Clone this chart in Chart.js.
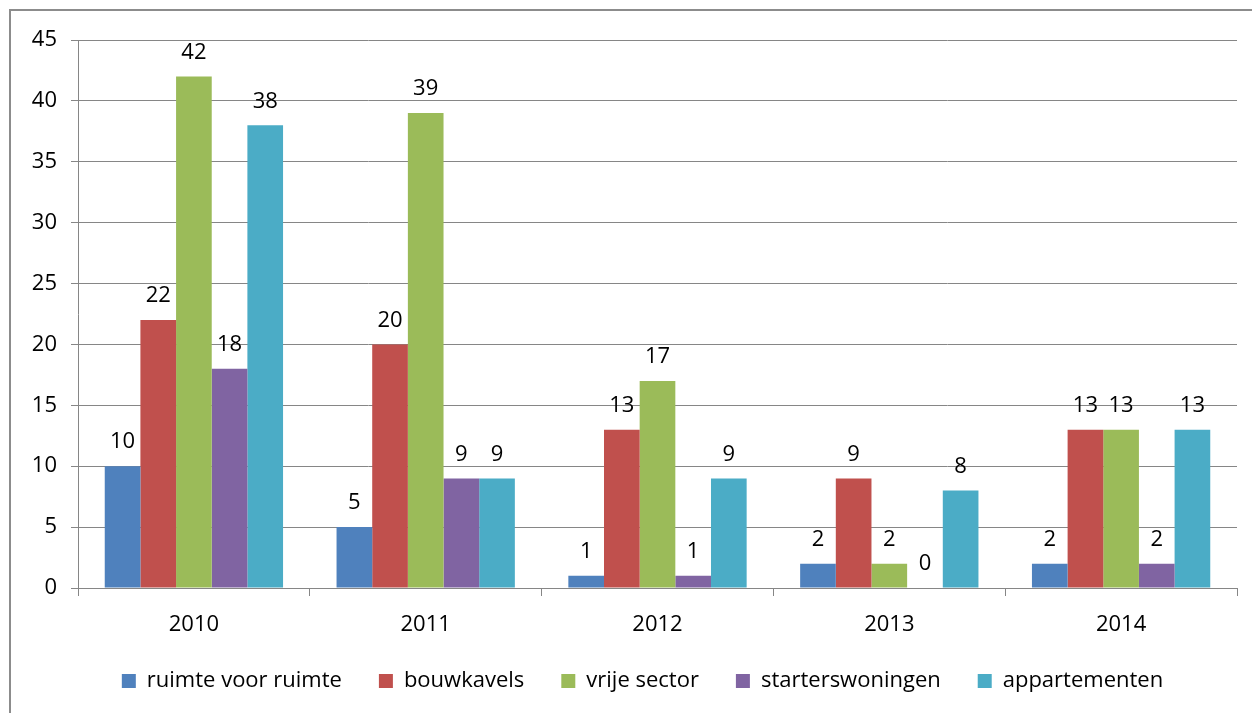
<!DOCTYPE html>
<html>
<head>
<meta charset="utf-8">
<script src="https://cdn.jsdelivr.net/npm/chart.js@4"></script>
<style>
  html, body { margin: 0; padding: 0; background: #fff; }
  #wrap { position: relative; width: 1252px; height: 713px; }
</style>
</head>
<body>
<div id="wrap"><canvas id="chart" width="1252" height="713"></canvas></div>
<script>
const years = ["2010", "2011", "2012", "2013", "2014"];
const ruimteVoorRuimte = [10, 5, 1, 2, 2];
const bouwkavels = [22, 20, 13, 9, 13];
const vrijeSector = [42, 39, 17, 2, 13];
const starterswoningen = [18, 9, 1, 0, 2];
const appartementen = [38, 9, 9, 8, 13];

const seriesNames = ["ruimte voor ruimte", "bouwkavels", "vrije sector", "starterswoningen", "appartementen"];
const seriesColors = ["#4F81BD", "#C0504D", "#9BBB59", "#8064A2", "#4BACC6"];
const seriesData = [ruimteVoorRuimte, bouwkavels, vrijeSector, starterswoningen, appartementen];

const FONT = "'Open Sans', sans-serif";
const FSIZE = 22;

// value labels above every bar
const barLabels = {
  id: "barLabels",
  afterDatasetsDraw(chart) {
    const ctx = chart.ctx;
    ctx.save();
    ctx.font = FSIZE + "px " + FONT;
    ctx.fillStyle = "#000";
    ctx.textAlign = "center";
    ctx.textBaseline = "bottom";
    chart.data.datasets.forEach((ds, i) => {
      chart.getDatasetMeta(i).data.forEach((bar, j) => {
        ctx.fillText(String(ds.data[j]), bar.x, bar.y - 13);
      });
    });
    ctx.restore();
  }
};

// grey frame on the left and top, like the cropped excel chart
const frame = {
  id: "frame",
  beforeDraw(chart) {
    const ctx = chart.ctx;
    ctx.save();
    ctx.strokeStyle = "#8c8c8c";
    ctx.lineWidth = 2;
    ctx.beginPath();
    ctx.moveTo(10, 713);
    ctx.lineTo(10, 10);
    ctx.lineTo(1252, 10);
    ctx.stroke();
    ctx.restore();
  }
};

// keep the legend short so it sits in the bottom strip, shifted under the plot
const legendFit = {
  id: "legendFit",
  beforeInit(chart) {
    const legend = chart.legend;
    if (!legend) return;
    const orig = legend.fit;
    legend.fit = function () {
      orig.call(this);
      this.height = 80;
    };
  },
  beforeDraw(chart) {
    const legend = chart.legend;
    if (legend && !legend._shifted) {
      legend._shifted = true;
      legend.left += 24;
      legend.right += 24;
      legend.legendHitBoxes.forEach((b) => { b.left += 24; });
    }
  }
};

new Chart(document.getElementById("chart"), {
  type: "bar",
  data: {
    labels: years,
    datasets: seriesNames.map((name, i) => ({
      label: name,
      data: seriesData[i],
      backgroundColor: seriesColors[i],
      borderWidth: 0,
      categoryPercentage: 5 / 6.5,
      barPercentage: 1.0
    }))
  },
  options: {
    responsive: false,
    animation: false,
    layout: { padding: { left: 0, right: 15, top: 40, bottom: 0 } },
    plugins: {
      tooltip: { enabled: false },
      legend: {
        position: "bottom",
        labels: {
          boxWidth: 14,
          boxHeight: 14,
          padding: 37,
          color: "#000",
          font: { family: FONT, size: FSIZE }
        }
      }
    },
    scales: {
      x: {
        grid: {
          offset: true,
          drawOnChartArea: false,
          tickLength: 8,
          color: "#868686"
        },
        border: { color: "#868686" },
        ticks: { color: "#000", font: { family: FONT, size: FSIZE }, padding: 16 },
        afterFit: (s) => { s.height = 45; }
      },
      y: {
        min: 0,
        max: 45,
        ticks: { stepSize: 5, color: "#000", font: { family: FONT, size: FSIZE }, padding: 14 },
        grid: { color: "#868686", tickLength: 7 },
        border: { color: "#868686" },
        afterFit: (s) => { s.width = 78; }
      }
    }
  },
  plugins: [barLabels, frame, legendFit]
});
</script>
</body>
</html>
